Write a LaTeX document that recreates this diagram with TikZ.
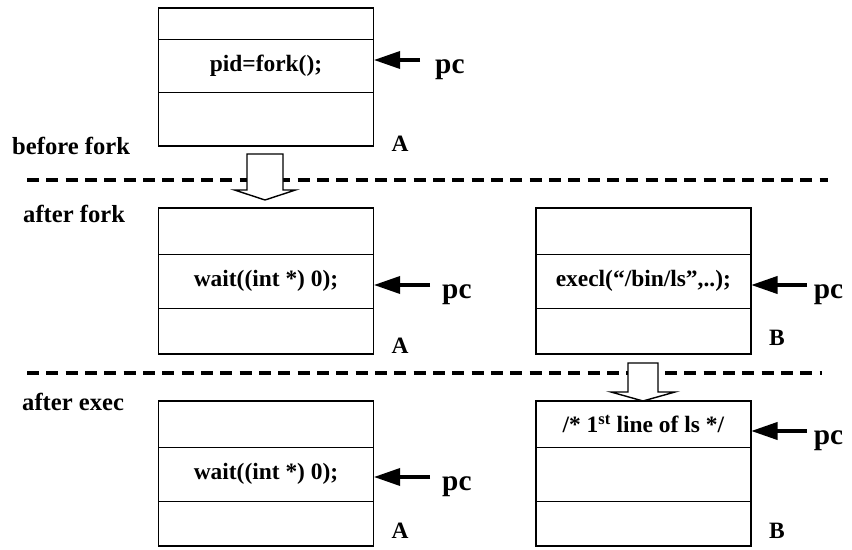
\documentclass[tikz,border=0pt]{standalone}
\usepackage{fontspec}
\setmainfont{Liberation Serif}
\usetikzlibrary{arrows.meta, positioning, fit}
\tikzset{
  cell/.style={rectangle, draw, line width=0.8pt, minimum width=6.45cm,
    inner sep=0pt, outer sep=0pt, font=\fontsize{20}{24}\selectfont\bfseries},
  boxframe/.style={rectangle, draw, line width=1.6pt, inner sep=0pt, outer sep=0pt},
  stage/.style={font=\fontsize{21}{25}\selectfont\bfseries, anchor=base west, inner sep=0pt},
  tag/.style={font=\fontsize{20}{24}\selectfont\bfseries, anchor=base, inner sep=0pt},
  pclabel/.style={font=\fontsize{25}{30}\selectfont\bfseries, inner sep=0pt},
  pcarrow/.style={-{Triangle[length=0.8cm,width=0.5cm]}, line width=4pt},
  divider/.style={dash pattern=on 0.36cm off 0.22cm, line width=3.4pt},
  hollow/.style={draw, fill=white, line width=1.2pt, line join=miter}
}

\begin{document}
\begin{tikzpicture}
  \useasboundingbox (0,0) rectangle (25.56,16.47);
  % Stage separators
  \draw[divider] (0.81,11.07) -- (24.84,11.07);
  \draw[divider] (0.81,5.28) -- (24.66,5.28);
  % Stage names
  \node[stage] (before) at (0.36,11.82) {before fork};
  \node[stage] (afterfork) at (0.69,9.78) {after fork};
  \node[stage] (afterexec) at (0.66,4.17) {after exec};
  % Process A before fork
  \node[cell, minimum height=0.93cm] (a1top) at (7.98,15.765) {};
  \node[cell, minimum height=1.59cm, below=0pt of a1top] (a1mid) {pid=fork();};
  \node[cell, minimum height=1.62cm, below=0pt of a1mid] (a1bot) {};
  \node[boxframe, fit=(a1top)(a1bot)] (a1) {};
  \node[tag] (a1tag) at (12.0,11.91) {A};
  % Process A after fork
  \node[cell, minimum height=1.38cm] (a2top) at (7.98,9.54) {};
  \node[cell, minimum height=1.62cm, below=0pt of a2top] (a2mid) {wait((int *) 0);};
  \node[cell, minimum height=1.38cm, below=0pt of a2mid] (a2bot) {};
  \node[boxframe, fit=(a2top)(a2bot)] (a2) {};
  \node[tag] (a2tag) at (12.0,5.88) {A};
  % Process B after fork
  \node[cell, minimum height=1.38cm] (b2top) at (19.3,9.54) {};
  \node[cell, minimum height=1.62cm, below=0pt of b2top] (b2mid) {execl(“/bin/ls”,..);};
  \node[cell, minimum height=1.38cm, below=0pt of b2mid] (b2bot) {};
  \node[boxframe, fit=(b2top)(b2bot)] (b2) {};
  \node[tag] (b2tag) at (23.31,6.12) {B};
  % Process A after exec
  \node[cell, minimum height=1.38cm] (a3top) at (7.98,3.75) {};
  \node[cell, minimum height=1.62cm, below=0pt of a3top] (a3mid) {wait((int *) 0);};
  \node[cell, minimum height=1.35cm, below=0pt of a3mid] (a3bot) {};
  \node[boxframe, fit=(a3top)(a3bot)] (a3) {};
  \node[tag] (a3tag) at (12.0,0.33) {A};
  % Process B after exec
  \node[cell, minimum height=1.38cm] (b3top) at (19.3,3.75) {/* 1\textsuperscript{st} line of ls */};
  \node[cell, minimum height=1.62cm, below=0pt of b3top] (b3mid) {};
  \node[cell, minimum height=1.35cm, below=0pt of b3mid] (b3bot) {};
  \node[boxframe, fit=(b3top)(b3bot)] (b3) {};
  \node[tag] (b3tag) at (23.31,0.33) {B};
  % fork and exec arrows
  \draw[hollow] (7.41,11.85) -- (8.49,11.85) -- (8.49,10.77) -- (8.865,10.77)
    -- (7.95,10.47) -- (7.035,10.77) -- (7.41,10.77) -- cycle;
  \draw[hollow] (18.84,5.58) -- (19.74,5.58) -- (19.74,4.71) -- (20.25,4.71)
    -- (19.29,4.44) -- (18.33,4.71) -- (18.84,4.71) -- cycle;
  % Program counters
  \coordinate (pc1tail) at (12.6,14.67);
  \coordinate (pc2tail) at (12.9,7.92);
  \coordinate (pc3tail) at (24.21,7.92);
  \coordinate (pc4tail) at (12.9,2.16);
  \coordinate (pc5tail) at (24.21,3.54);
  \node[pclabel, right=0.45cm of pc1tail, yshift=-0.3cm] (pc1) {pc};
  \node[pclabel, right=0.36cm of pc2tail, yshift=-0.3cm] (pc2) {pc};
  \node[pclabel, right=0.2cm of pc3tail, yshift=-0.3cm] (pc3) {pc};
  \node[pclabel, right=0.36cm of pc4tail, yshift=-0.3cm] (pc4) {pc};
  \node[pclabel, right=0.2cm of pc5tail, yshift=-0.3cm] (pc5) {pc};
  \draw[pcarrow] (pc1tail) -- (pc1tail -| a1.east);
  \draw[pcarrow] (pc2tail) -- (pc2tail -| a2.east);
  \draw[pcarrow] (pc3tail) -- (pc3tail -| b2.east);
  \draw[pcarrow] (pc4tail) -- (pc4tail -| a3.east);
  \draw[pcarrow] (pc5tail) -- (pc5tail -| b3.east);
\end{tikzpicture}
\end{document}
